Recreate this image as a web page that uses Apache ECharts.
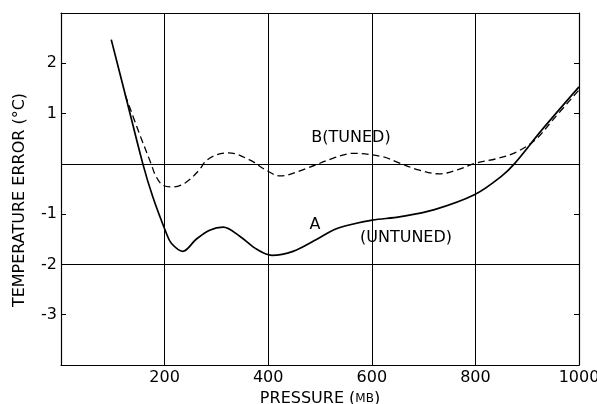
<!DOCTYPE html>
<html>
<head>
<meta charset="utf-8">
<script src="https://cdn.jsdelivr.net/npm/echarts@6/dist/echarts.min.js"></script>
<style>
html,body{margin:0;padding:0;background:#fff;}
#c{width:597px;height:404px;}
</style>
</head>
<body>
<div id="c"></div>
<script>
// Curve A (untuned): [pressure mb, temperature error °C]
const untuned = [[97,2.47],[124,1.38],[158,0],[177,-0.65],[203,-1.37],[213,-1.58],[235,-1.74],[261,-1.5],[287,-1.32],[313,-1.26],[345,-1.44],[378,-1.70],[407,-1.82],[448,-1.74],[494,-1.50],[527,-1.31],[558,-1.21],[601,-1.12],[656,-1.05],[721,-0.91],[799,-0.61],[850,-0.25],[876,0.01],[928,0.67],[1000,1.53]];
// Curve B (tuned)
const tuned = [[124,1.37],[151,0.61],[174,0],[182,-0.22],[196,-0.42],[216,-0.46],[241,-0.37],[267,-0.12],[280,0.06],[300,0.18],[323,0.22],[364,0.08],[395,-0.12],[423,-0.24],[474,-0.09],[525,0.11],[565,0.21],[622,0.14],[650,0.03],[690,-0.12],[730,-0.2],[765,-0.12],[799,0.01],[840,0.1],[876,0.22],[915,0.47],[950,0.88],[1000,1.47]];
const xTickLabels = [200,400,600,800,1000];
const yTickLabels = [2,1,-1,-2,-3];
const vGrid = [200,400,600,800];
const hGrid = [0,-2];

const FONT = 'DejaVu Sans';
const chart = echarts.init(document.getElementById('c'));
chart.setOption({
  animation:false,
  backgroundColor:'#fff',
  grid:{left:61,right:18,top:13,bottom:39,containLabel:false,outerBoundsMode:'none'},
  xAxis:[{
    type:'value',min:0,max:1000,interval:200,
    axisLine:{show:true,onZero:false,lineStyle:{color:'#000',width:1.2}},
    axisTick:{show:false},
    splitLine:{show:false},
    axisLabel:{color:'#000',fontFamily:FONT,fontSize:16,margin:5,
      formatter:v=>xTickLabels.includes(v)?String(v):''},
    name:'PRESSURE ({s|MB})',nameLocation:'middle',nameGap:24,
    nameTextStyle:{color:'#000',fontFamily:FONT,fontSize:16,
      rich:{s:{fontFamily:FONT,fontSize:12,color:'#000'}}}
  },{
    type:'value',min:0,max:1000,position:'top',
    axisLine:{show:true,onZero:false,lineStyle:{color:'#000',width:1}},
    axisTick:{show:false},axisLabel:{show:false},splitLine:{show:false}
  }],
  yAxis:[{
    type:'value',min:-4,max:3,interval:1,
    axisLine:{show:true,onZero:false,lineStyle:{color:'#000',width:1.2}},
    axisTick:{show:true,inside:true,length:5,lineStyle:{color:'#000'}},
    splitLine:{show:false},
    axisLabel:{color:'#000',fontFamily:FONT,fontSize:16,margin:4,
      formatter:v=>yTickLabels.includes(v)?String(v):''}
  },{
    type:'value',min:-4,max:3,interval:1,position:'right',
    axisLine:{show:true,onZero:false,lineStyle:{color:'#000',width:1.2}},
    axisTick:{show:true,inside:true,length:5,lineStyle:{color:'#000'}},
    axisLabel:{show:false},splitLine:{show:false}
  }],
  graphic:[
    {type:'text',x:20,y:200,rotation:Math.PI/2,
      style:{text:'TEMPERATURE ERROR (°C)',fill:'#000',font:'16px "DejaVu Sans"',align:'center',verticalAlign:'middle'}},
    {type:'text',x:351,y:138,style:{text:'B(TUNED)',fill:'#000',font:'16px "DejaVu Sans"',align:'center',verticalAlign:'middle'}},
    {type:'text',x:315,y:225,style:{text:'A',fill:'#000',font:'16px "DejaVu Sans"',align:'center',verticalAlign:'middle'}},
    {type:'text',x:406,y:238,style:{text:'(UNTUNED)',fill:'#000',font:'16px "DejaVu Sans"',align:'center',verticalAlign:'middle'}}
  ],
  series:[
    {type:'line',name:'grid',data:[],silent:true,
      markLine:{silent:true,symbol:'none',label:{show:false},
        lineStyle:{color:'#000',width:1,type:'solid'},
        data:vGrid.map(v=>({xAxis:v})).concat(hGrid.map(v=>({yAxis:v})))}},
    {type:'line',name:'A (UNTUNED)',data:untuned,smooth:0.35,symbol:'none',
      lineStyle:{color:'#000',width:1.7}},
    {type:'line',name:'B (TUNED)',data:tuned,smooth:0.35,symbol:'none',
      lineStyle:{color:'#000',width:1.3,type:[7,4]}}
  ]
});
</script>
</body>
</html>
